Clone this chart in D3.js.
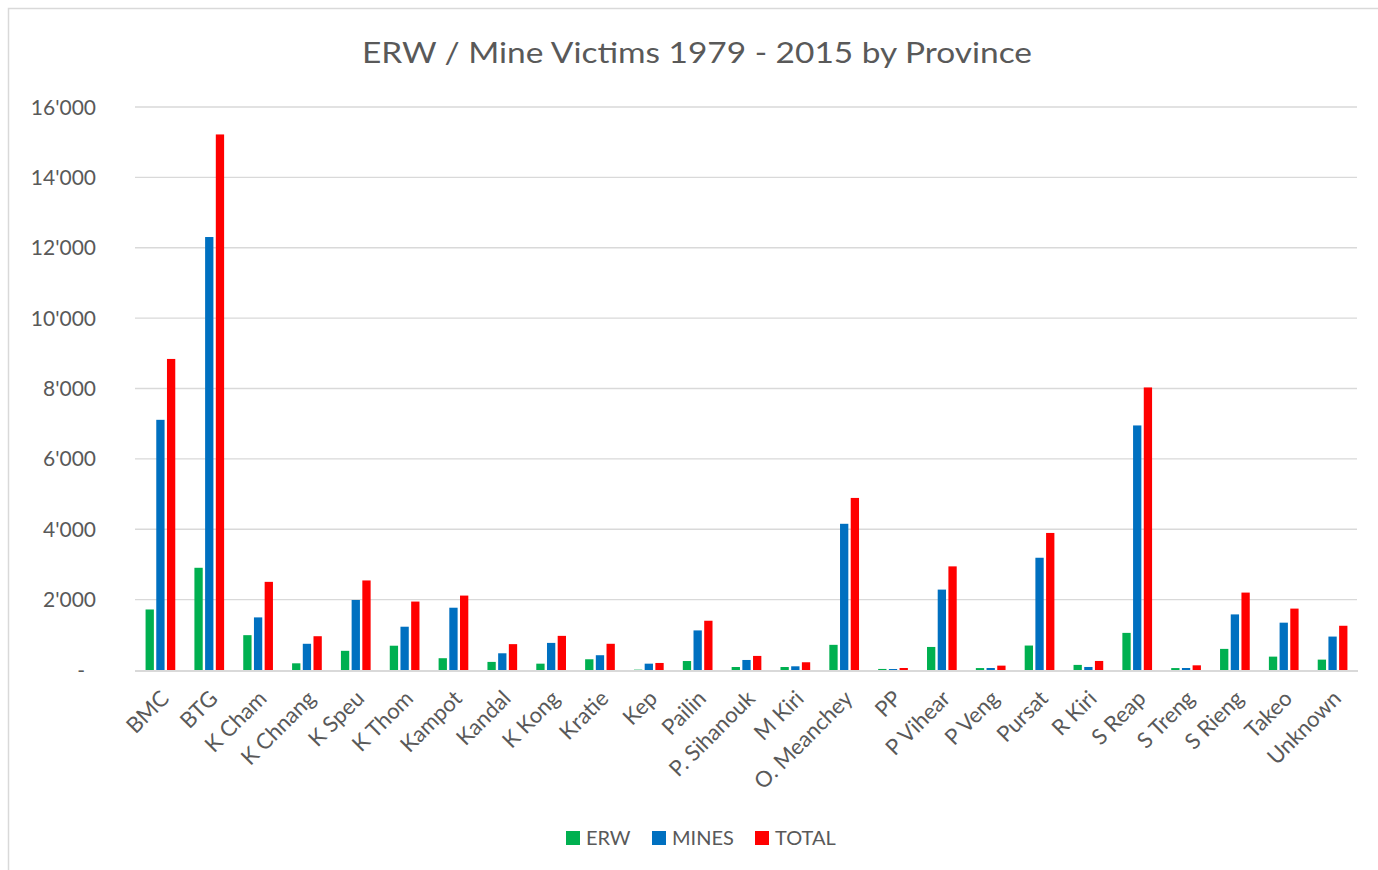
<!DOCTYPE html>
<html><head><meta charset="utf-8">
<script src="https://cdn.jsdelivr.net/npm/d3@7/dist/d3.min.js"></script>
<style>
html,body{margin:0;padding:0;background:#fff;}
svg{display:block;font-family:Lato,"Open Sans",sans-serif;}
</style></head>
<body>
<svg id="chart" width="1378" height="870"></svg>
<script>
const categories = ["BMC","BTG","K Cham","K Chnang","K Speu","K Thom","Kampot","Kandal","K Kong","Kratie","Kep","Pailin","P. Sihanouk","M Kiri","O. Meanchey","PP","P Vihear","P Veng","Pursat","R Kiri","S Reap","S Treng","S Rieng","Takeo","Unknown"];
const erw   = [1720,2905,990,190,545,690,335,230,180,305,10,255,85,85,715,30,655,55,695,145,1055,55,600,380,295];
const mines = [7110,12305,1495,745,1990,1230,1770,475,770,420,180,1125,285,105,4155,28,2285,57,3190,86,6950,57,1580,1345,950];
const total = [8840,15220,2505,960,2545,1945,2115,735,970,745,200,1400,400,220,4890,57,2945,124,3895,257,8030,133,2200,1745,1257];
const seriesNames = ["ERW","MINES","TOTAL"];
const seriesColors = ["#00b050","#0070c0","#ff0000"];
const yTicks = [0,2000,4000,6000,8000,10000,12000,14000,16000];
const yTickLabels = ["-","2'000","4'000","6'000","8'000","10'000","12'000","14'000","16'000"];
const chartTitle = "ERW / Mine Victims 1979 - 2015 by Province";

(function(){
const svg = d3.select("#chart");
const W = 1378, H = 870;
const pLeft = 136, pRight = 1357, pTop = 107, pBottom = 670;

// outer border
svg.append("rect").attr("x",8.5).attr("y",8.5).attr("width",W+20).attr("height",H+20)
  .attr("fill","none").attr("stroke","#d9d9d9").attr("stroke-width",1.5);

const y = d3.scaleLinear().domain([0,16000]).range([pBottom, pTop]);
const x0 = d3.scaleBand().domain(categories).range([pLeft, pRight]).padding(0);
const groupW = 29.7;
const x1 = d3.scaleBand().domain(seriesNames).range([0, groupW]).paddingInner(0.224).paddingOuter(0);

// gridlines
svg.append("g").selectAll("line").data(yTicks.filter(d=>d>0)).join("line")
  .attr("x1",pLeft-1).attr("x2",pRight).attr("y1",d=>y(d)).attr("y2",d=>y(d))
  .attr("stroke","#d9d9d9").attr("stroke-width",1.3);

// y tick labels
svg.append("g").selectAll("text").data(yTicks).join("text")
  .attr("x", 96).attr("dx", d=> d===0 ? -11 : 0)
  .attr("y", d=>y(d)).attr("dy","0.36em")
  .attr("text-anchor","end").attr("fill","#595959").attr("font-size",21)
  .text((d,i)=>yTickLabels[i]);

// bars
const seriesData = [erw, mines, total];
const rows = categories.map((c,i)=>({c, vals: seriesNames.map((s,k)=>({s, k, v: seriesData[k][i]}))}));
const g = svg.append("g");
const groups = g.selectAll("g").data(rows).join("g")
  .attr("transform", d=>`translate(${x0(d.c) + (x0.bandwidth()-groupW)/2},0)`);
groups.selectAll("rect").data(d=>d.vals).join("rect")
  .attr("x", d=>x1(d.s)).attr("width", x1.bandwidth())
  .attr("y", d=>y(d.v)).attr("height", d=>y(0)-y(d.v))
  .attr("fill", d=>seriesColors[d.k]);

// baseline
svg.append("line").attr("x1",pLeft-1).attr("x2",pRight+1).attr("y1",y(0)+1).attr("y2",y(0)+1)
  .attr("stroke","#d9d9d9").attr("stroke-width",2);

// x labels
svg.append("g").selectAll("text").data(categories).join("text")
  .attr("transform", d=>`translate(${x0(d)+x0.bandwidth()/2-1},${pBottom+19}) rotate(-45)`)
  .attr("text-anchor","end").attr("dy","0.7em")
  .attr("fill","#595959").attr("font-size",22)
  .text(d=>d);

// title
svg.append("text").attr("x",697).attr("y",63).attr("text-anchor","middle")
  .attr("fill","#595959").attr("font-size",29).attr("font-weight",400)
  .attr("textLength",670).attr("lengthAdjust","spacingAndGlyphs")
  .text(chartTitle);

// legend
const legendX = [566, 652, 755];
const lg = svg.append("g").selectAll("g").data(seriesNames).join("g")
  .attr("transform",(d,i)=>`translate(${legendX[i]},831)`);
lg.append("rect").attr("width",14).attr("height",14).attr("fill",(d,i)=>seriesColors[i]);
lg.append("text").attr("x",20).attr("y",7).attr("dy","0.36em")
  .attr("fill","#595959").attr("font-size",20).text(d=>d);
})();
</script>
</body></html>
